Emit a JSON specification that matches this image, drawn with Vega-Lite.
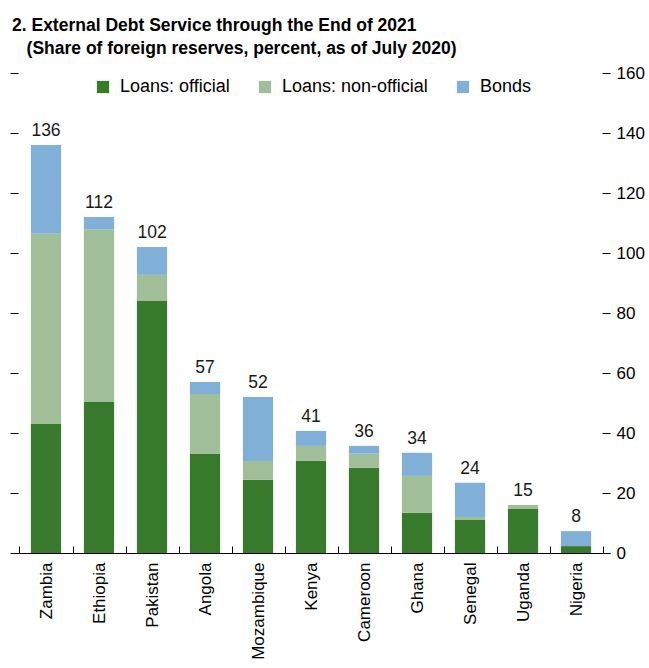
{
  "$schema": "https://vega.github.io/schema/vega-lite/v6.json",
  "autosize": "none",
  "width": 600,
  "height": 480,
  "padding": {"left": 10, "top": 73, "right": 39, "bottom": 115},
  "background": "white",
  "config": {
    "view": {"stroke": null},
    "font": "Liberation Sans",
    "axis": {"grid": false}
  },
  "title": {
    "text": ["2. External Debt Service through the End of 2021", "\u200b\u00a0\u00a0\u00a0(Share of foreign reserves, percent, as of July 2020)"],
    "anchor": "start",
    "frame": "group",
    "font": "Liberation Sans",
    "fontSize": 17.5,
    "fontWeight": "bold",
    "color": "#000000",
    "lineHeight": 23,
    "offset": 7,
    "dx": 2
  },
  "datasets": {
    "parts": [
      {"country": "Zambia", "type": "Loans: official", "value": 43},
      {"country": "Zambia", "type": "Loans: non-official", "value": 63.4},
      {"country": "Zambia", "type": "Bonds", "value": 29.6},
      {"country": "Ethiopia", "type": "Loans: official", "value": 50.3},
      {"country": "Ethiopia", "type": "Loans: non-official", "value": 57.5},
      {"country": "Ethiopia", "type": "Bonds", "value": 4.2},
      {"country": "Pakistan", "type": "Loans: official", "value": 84},
      {"country": "Pakistan", "type": "Loans: non-official", "value": 8.7},
      {"country": "Pakistan", "type": "Bonds", "value": 9.3},
      {"country": "Angola", "type": "Loans: official", "value": 33},
      {"country": "Angola", "type": "Loans: non-official", "value": 20},
      {"country": "Angola", "type": "Bonds", "value": 4},
      {"country": "Mozambique", "type": "Loans: official", "value": 24.4},
      {"country": "Mozambique", "type": "Loans: non-official", "value": 6.3},
      {"country": "Mozambique", "type": "Bonds", "value": 21.3},
      {"country": "Kenya", "type": "Loans: official", "value": 30.7},
      {"country": "Kenya", "type": "Loans: non-official", "value": 5},
      {"country": "Kenya", "type": "Bonds", "value": 5},
      {"country": "Cameroon", "type": "Loans: official", "value": 28.4},
      {"country": "Cameroon", "type": "Loans: non-official", "value": 4.7},
      {"country": "Cameroon", "type": "Bonds", "value": 2.6},
      {"country": "Ghana", "type": "Loans: official", "value": 13.4},
      {"country": "Ghana", "type": "Loans: non-official", "value": 12.3},
      {"country": "Ghana", "type": "Bonds", "value": 7.7},
      {"country": "Senegal", "type": "Loans: official", "value": 11},
      {"country": "Senegal", "type": "Loans: non-official", "value": 1},
      {"country": "Senegal", "type": "Bonds", "value": 11.4},
      {"country": "Uganda", "type": "Loans: official", "value": 14.7},
      {"country": "Uganda", "type": "Loans: non-official", "value": 1.3},
      {"country": "Uganda", "type": "Bonds", "value": 0},
      {"country": "Nigeria", "type": "Loans: official", "value": 2.3},
      {"country": "Nigeria", "type": "Loans: non-official", "value": 0},
      {"country": "Nigeria", "type": "Bonds", "value": 5}
    ],
    "totals": [
      {"country": "Zambia", "total": 136, "label": "136"},
      {"country": "Ethiopia", "total": 112, "label": "112"},
      {"country": "Pakistan", "total": 102, "label": "102"},
      {"country": "Angola", "total": 57, "label": "57"},
      {"country": "Mozambique", "total": 52, "label": "52"},
      {"country": "Kenya", "total": 40.7, "label": "41"},
      {"country": "Cameroon", "total": 35.7, "label": "36"},
      {"country": "Ghana", "total": 33.4, "label": "34"},
      {"country": "Senegal", "total": 23.4, "label": "24"},
      {"country": "Uganda", "total": 16, "label": "15"},
      {"country": "Nigeria", "total": 7.3, "label": "8"}
    ]
  },
  "layer": [
    {
      "data": {"name": "parts"},
      "transform": [
        {"calculate": "indexof(['Loans: official','Loans: non-official','Bonds'], datum.type)", "as": "ord"}
      ],
      "mark": {"type": "bar", "width": {"band": 0.57}},
      "encoding": {
        "x": {
          "field": "country", "type": "nominal",
          "sort": ["Zambia","Ethiopia","Pakistan","Angola","Mozambique","Kenya","Cameroon","Ghana","Senegal","Uganda","Nigeria"],
          "scale": {"paddingInner": 0, "paddingOuter": 0.16, "align": 0.56},
          "axis": {
            "title": null, "labelAngle": -90, "labelAlign": "right", "labelBaseline": "middle",
            "labelFontSize": 17, "labelColor": "#000000", "labelPadding": 16,
            "tickBand": "extent", "tickSize": -7, "tickColor": "#000000", "domainColor": "#000000", "domainWidth": 1.2
          }
        },
        "y": {
          "aggregate": "sum", "field": "value", "type": "quantitative", "stack": "zero",
          "scale": {"domain": [0, 160], "nice": false},
          "axis": {
            "orient": "left", "title": null, "labels": false, "domain": false,
            "values": [20, 40, 60, 80, 100, 120, 140, 160],
            "tickSize": -8, "tickColor": "#000000"
          }
        },
        "color": {
          "field": "type", "type": "nominal",
          "scale": {"domain": ["Loans: official", "Loans: non-official", "Bonds"], "range": ["#387a2c", "#a0bf98", "#80b0d8"]},
          "legend": {
            "title": null, "orient": "none", "direction": "horizontal", "legendX": 84, "legendY": 5,
            "symbolType": "square", "symbolSize": 150, "symbolStrokeWidth": 0, "symbolOpacity": 1,
            "labelFontSize": 18, "labelColor": "#000000", "labelOffset": 8, "columnPadding": 26, "labelLimit": 400
          }
        },
        "order": {"field": "ord", "type": "quantitative"}
      }
    },
    {
      "data": {"name": "totals"},
      "mark": {"type": "text", "baseline": "bottom", "dy": -5, "fontSize": 17.5, "color": "#1a1a1a"},
      "encoding": {
        "x": {"field": "country", "type": "nominal", "sort": ["Zambia","Ethiopia","Pakistan","Angola","Mozambique","Kenya","Cameroon","Ghana","Senegal","Uganda","Nigeria"]},
        "y": {
          "field": "total", "type": "quantitative",
          "axis": {
            "orient": "right", "title": null, "domain": false,
            "values": [0, 20, 40, 60, 80, 100, 120, 140, 160],
            "tickSize": -8, "tickColor": "#000000", "labelFontSize": 17, "labelColor": "#000000", "labelPadding": 14
          }
        },
        "text": {"field": "label"}
      }
    }
  ],
  "resolve": {"axis": {"y": "independent"}}
}
